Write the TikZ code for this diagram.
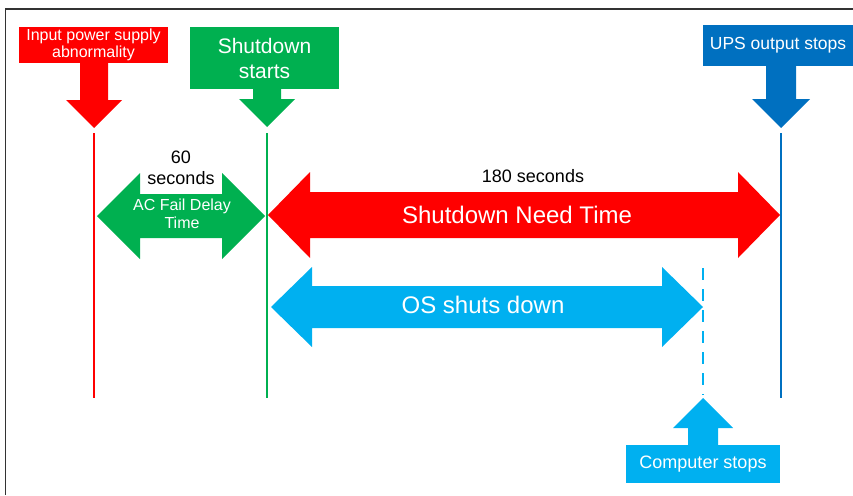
\documentclass[tikz,border=0pt]{standalone}
\usepackage{fontspec}
\setmainfont{Liberation Sans}
\usepackage{xcolor}
\usetikzlibrary{calc}

\definecolor{upsred}{RGB}{255,0,0}
\definecolor{upsgreen}{RGB}{0,176,80}
\definecolor{upsblue}{RGB}{0,112,192}
\definecolor{upscyan}{RGB}{0,176,240}

\begin{document}
\begin{tikzpicture}[x=1pt, y=-1pt,
  tagbox/.style={rectangle, inner sep=0pt, text=white, align=center},
  timeline/.style={line width=2pt},
  txt/.style={inner sep=0pt, align=center},
]
\useasboundingbox (0,0) rectangle (853,495);

% Frame
\coordinate (fbl) at (5.5,495);
\coordinate (ftl) at (5.5,9);
\coordinate (ftr) at (853,9);
\draw[black!80, line width=1.5pt] (fbl) -- (ftl) -- (ftr);

% Time lines
\coordinate (redtop) at (94,133);
\coordinate (redbot) at (94,398);
\coordinate (greentop) at (267,133);
\coordinate (greenbot) at (267,398);
\coordinate (bluetop) at (781,133);
\coordinate (bluebot) at (781,398);
\coordinate (cyantop) at (703,268);
\coordinate (cyanbot) at (703,395);
\draw[timeline, upsred] (redtop) -- (redbot);
\draw[timeline, upsgreen] (greentop) -- (greenbot);
\draw[timeline, upsblue] (bluetop) -- (bluebot);
\draw[timeline, upscyan, dash pattern=on 12pt off 9pt] (cyantop) -- (cyanbot);

% Event boxes
\node[tagbox, fill=upsred, minimum width=149, minimum height=36, font=\fontsize{16}{17}\selectfont] (inputbox) at (93.5,45) {Input power supply\\abnormality};
\node[tagbox, fill=upsgreen, minimum width=149, minimum height=62, font=\fontsize{21}{25}\selectfont] (startbox) at (264.5,58) {Shutdown\\starts};
\node[tagbox, fill=upsblue, minimum width=150, minimum height=41, font=\fontsize{17.5}{20}\selectfont] (upsbox) at (778,45.5) {UPS output stops};
\node[tagbox, fill=upscyan, minimum width=154, minimum height=38, font=\fontsize{18}{20}\selectfont] (pcbox) at (703,464) {Computer stops};

% Block arrows to the time lines
\fill[upsred] (80,63) -- (108,63) -- (108,100) -- (122,100) -- (94,128) -- (66,100) -- (80,100) -- cycle;
\fill[upsgreen] (253,89) -- (281,89) -- (281,99) -- (295,99) -- (267,127) -- (239,99) -- (253,99) -- cycle;
\fill[upsblue] (766,66) -- (796,66) -- (796,99) -- (810,99) -- (781,128) -- (752,99) -- (766,99) -- cycle;
\fill[upscyan] (688,445) -- (718,445) -- (718,428) -- (733,428) -- (703,398) -- (673,428) -- (688,428) -- cycle;

% Spans
\fill[upsgreen] (97,216) -- (140,173) -- (140,194) -- (222,194) -- (222,173) -- (265,216)
  -- (222,259) -- (222,238) -- (140,238) -- (140,259) -- cycle;
\fill[upsred] (268,215) -- (310,172) -- (310,192) -- (738,192) -- (738,172) -- (780,215)
  -- (738,258) -- (738,238) -- (310,238) -- (310,258) -- cycle;
\fill[upscyan] (271,307) -- (312,267) -- (312,286) -- (662,286) -- (662,267) -- (703,307)
  -- (662,347) -- (662,328) -- (312,328) -- (312,347) -- cycle;

% Span texts
\node[txt, font=\fontsize{18}{21}\selectfont] (delaysec) at (181,168) {60\\seconds};
\node[txt, text=white, font=\fontsize{16}{18.5}\selectfont] (delay) at (182,214) {AC Fail Delay\\Time};
\node[txt, font=\fontsize{18}{21}\selectfont] (needsec) at (533,176) {180 seconds};
\node[txt, text=white, font=\fontsize{24}{28}\selectfont] (need) at (517,215) {Shutdown Need Time};
\node[txt, text=white, font=\fontsize{24}{28}\selectfont] (os) at (483,305) {OS shuts down};
\end{tikzpicture}
\end{document}
